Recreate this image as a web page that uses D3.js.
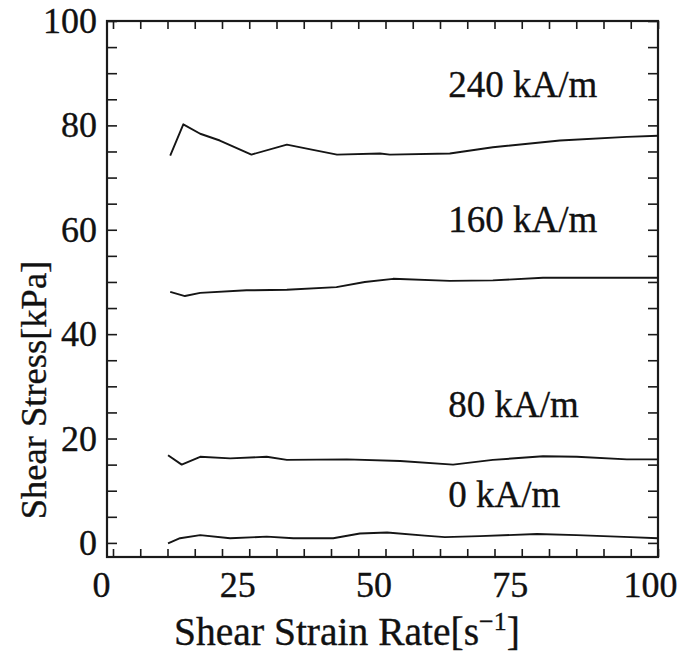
<!DOCTYPE html>
<html>
<head>
<meta charset="utf-8">
<script src="https://cdn.jsdelivr.net/npm/d3@7"></script>
<style>
  html, body { margin: 0; padding: 0; background: #fff; }
  svg { display: block; }
</style>
</head>
<body>
<svg id="chart" width="680" height="653"></svg>
<script>
// ---- data ----
const xTicks = [0, 25, 50, 75, 100];
const yTicks = [0, 20, 40, 60, 80, 100];

const fieldLabels = ["240 kA/m", "160 kA/m", "80 kA/m", "0 kA/m"];

const rate240 = [10.5, 12.9, 16.0, 19.6, 25.4, 31.9, 36.7, 41.1, 49.0, 50.8, 61.8, 69.7, 82.0, 94.3, 100];
const stress240 = [74.2, 80.2, 78.4, 77.1, 74.4, 76.3, 75.3, 74.4, 74.6, 74.4, 74.6, 75.8, 77.1, 77.8, 78.0];

const rate160 = [10.5, 13.2, 16.0, 24.5, 31.9, 41.0, 46.2, 51.4, 61.8, 69.7, 78.9, 88.1, 100];
const stress160 = [48.1, 47.3, 47.9, 48.4, 48.5, 49.0, 50.0, 50.6, 50.2, 50.3, 50.8, 50.8, 50.8];

const rate80 = [10.1, 12.6, 16.0, 21.5, 28.2, 31.9, 42.9, 52.7, 62.4, 69.7, 78.9, 85.1, 94.3, 100];
const stress80 = [16.8, 15.0, 16.5, 16.2, 16.5, 15.9, 16.0, 15.7, 15.0, 15.9, 16.6, 16.5, 16.0, 16.0];

const rate0 = [10.1, 12.3, 16.0, 21.5, 28.2, 33.1, 40.4, 45.3, 50.3, 57.2, 60.9, 67.3, 77.8, 85.1, 94.9, 100];
const stress0 = [-0.1, 0.9, 1.5, 0.9, 1.2, 0.9, 0.9, 1.8, 2.0, 1.4, 1.1, 1.3, 1.7, 1.5, 1.1, 0.9];

const labelPos = [ // data coordinates for label anchor (x, y)
  [61.5, 85.4], [61.5, 59.5], [61.5, 24.2], [61.5, 6.8]
];

// ---- layout ----
const FONT = '"Liberation Serif", "Times New Roman", Times, serif';
const svg = d3.select("#chart");
const mLeft = 107, mRight = 658, mTop = 21, mBottom = 557;

const x = d3.scaleLinear().domain([-1.1, 100]).range([mLeft, mRight]);
const y = d3.scaleLinear().domain([-2.7, 100]).range([mBottom, mTop]);

const minorX = d3.range(0, 101, 5);
const minorY = d3.range(0, 101, 5);

const frameColor = "#1a1a1a";

function styleAxis(g) {
  g.select(".domain").remove();
  g.selectAll(".tick line").attr("stroke", frameColor).attr("stroke-width", 1.6);
}
function styleText(sel, size) {
  sel.style("font-family", FONT)
     .style("font-size", size + "px")
     .attr("fill", "#111")
     .attr("stroke", "#111")
     .attr("stroke-width", 0.35);
}

svg.append("g")
  .attr("transform", `translate(0,${mBottom})`)
  .call(d3.axisBottom(x).tickValues(minorX).tickSize(-8).tickPadding(14)
        .tickFormat(d => xTicks.includes(d) ? d : ""))
  .call(styleAxis)
  .call(g => g.selectAll("text")
      .call(styleText, 36)
      .attr("dx", d => d === 100 ? -8 : -12));

svg.append("g")
  .attr("transform", `translate(0,${mTop})`)
  .call(d3.axisTop(x).tickValues(minorX).tickSize(-8).tickFormat(""))
  .call(styleAxis);

svg.append("g")
  .attr("transform", `translate(${mLeft},0)`)
  .call(d3.axisLeft(y).tickValues(minorY).tickSize(-10).tickPadding(10)
        .tickFormat(d => yTicks.includes(d) ? d : ""))
  .call(styleAxis)
  .call(g => g.selectAll("text").call(styleText, 36));

svg.append("g")
  .attr("transform", `translate(${mRight},0)`)
  .call(d3.axisRight(y).tickValues(minorY).tickSize(-10).tickFormat(""))
  .call(styleAxis);

svg.append("rect")
  .attr("x", mLeft).attr("y", mTop)
  .attr("width", mRight - mLeft).attr("height", mBottom - mTop)
  .attr("fill", "none").attr("stroke", frameColor).attr("stroke-width", 2.2);

const series = [
  [rate240, stress240], [rate160, stress160], [rate80, stress80], [rate0, stress0]
];
const line = d3.line().x(d => x(d[0])).y(d => y(d[1]));
series.forEach(([xs, ys]) => {
  svg.append("path")
    .datum(xs.map((v, i) => [v, ys[i]]))
    .attr("d", line)
    .attr("fill", "none")
    .attr("stroke", "#151515")
    .attr("stroke-width", 1.9)
    .attr("stroke-linejoin", "round");
});

fieldLabels.forEach((t, i) => {
  svg.append("text")
    .attr("x", x(labelPos[i][0]))
    .attr("y", y(labelPos[i][1]))
    .call(styleText, 37)
    .text(t);
});

const xt = svg.append("text")
  .attr("x", 347).attr("y", 645)
  .attr("text-anchor", "middle")
  .call(styleText, 39.5);
xt.append("tspan").text("Shear Strain Rate[s");
xt.append("tspan").attr("dy", -15).style("font-size", "26px").text("\u22121");
xt.append("tspan").attr("dy", 15).text("]");

svg.append("text")
  .attr("transform", "translate(46,390) rotate(-90)")
  .attr("text-anchor", "middle")
  .call(styleText, 36.5)
  .text("Shear Stress[kPa]");
</script>
</body>
</html>
